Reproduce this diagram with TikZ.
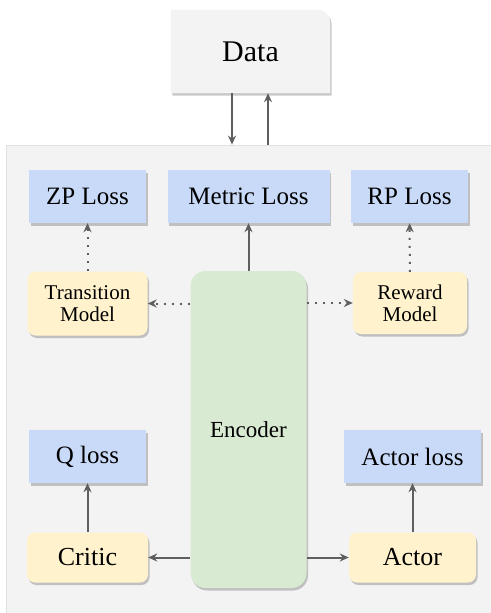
\documentclass[tikz,border=0pt]{standalone}
\usepackage{fontspec}
\setmainfont{Liberation Serif}
\usetikzlibrary{arrows.meta}
\usetikzlibrary{shadows}
\usetikzlibrary{backgrounds}
\definecolor{lossblue}{HTML}{C9DAF8}
\definecolor{modelyellow}{HTML}{FFF2CC}
\definecolor{encgreen}{HTML}{D9EAD3}
\definecolor{panelgray}{HTML}{F3F3F3}
\definecolor{linegray}{HTML}{5F5F5F}
\tikzstyle{graph}=[x=1pt, y=-1pt]
\tikzstyle{shade}=[drop shadow={shadow xshift=1.5pt, shadow yshift=-2.5pt, opacity=0.3, fill=black!70}]
\tikzstyle{box}=[inner sep=0pt, align=center, shade]
\tikzstyle{panel}=[draw=black!12, line width=0.8pt, fill=panelgray, minimum width=490pt, minimum height=480pt]
\tikzstyle{data}=[inner sep=0pt, minimum width=159pt, minimum height=83pt, font=\fontsize{30}{32}\selectfont]
\tikzstyle{loss}=[box, fill=lossblue, minimum height=53pt, font=\fontsize{25}{27}\selectfont]
\tikzstyle{model}=[box, fill=modelyellow, rounded corners=8pt, minimum width=120pt, minimum height=64pt, font=\fontsize{21}{22}\selectfont]
\tikzstyle{head}=[box, fill=modelyellow, rounded corners=8pt, minimum height=50pt, font=\fontsize{26}{28}\selectfont]
\tikzstyle{enc}=[box, fill=encgreen, rounded corners=15pt, minimum width=116pt, minimum height=317pt, font=\fontsize{23}{25}\selectfont]
\tikzstyle{edge}=[-{Stealth[length=9pt, width=8pt]}, color=linegray, line width=2pt]
\tikzstyle{aux}=[edge, dash pattern=on 2pt off 6pt]

\begin{document}
\begin{tikzpicture}[graph]
	\useasboundingbox (0,0) rectangle (490,613);
	\draw (251.5,385) node[panel] (panel) {};
	\draw (250.5,51.5) node[data] (data) {Data};
	\begin{scope}[on background layer]
		\fill[panelgray, shade] (data.south west) -- (data.north west) [rounded corners=12pt] -- (data.north east) [sharp corners] -- (data.south east) -- cycle;
	\end{scope}
	\draw[edge] ([xshift=-18.5pt]data.south) -- ([xshift=-18.5pt]data.south |- panel.north);
	\draw[edge] ([xshift=17.5pt]data.south |- panel.north) -- ([xshift=17.5pt]data.south);
	%
	\draw (87.5,196.5) node[loss, minimum width=117pt] (zp) {ZP Loss};
	\draw (248.5,196.5) node[loss, minimum width=162pt] (metric) {Metric Loss};
	\draw (409.5,196.5) node[loss, minimum width=117pt] (rp) {RP Loss};
	\draw (87.5,303.5) node[model] (trans) {Transition\\Model};
	\draw (410,303) node[model, minimum width=114pt, minimum height=62pt] (reward) {Reward\\Model};
	\draw (248.5,429.5) node[enc] (encoder) {Encoder};
	\draw (87.5,456.5) node[loss, minimum width=117pt] (qloss) {Q loss};
	\draw (412.5,456.5) node[loss, minimum width=137pt] (aloss) {Actor loss};
	\draw (87.5,557.5) node[head, minimum width=121pt] (critic) {Critic};
	\draw (412.5,557.5) node[head, minimum width=127pt] (actor) {Actor};
	%
	\draw[edge] (encoder) -- (metric);
	\draw[aux] (encoder.west |- trans) -- (trans.east);
	\draw[aux] (encoder.east |- reward) -- (reward.west);
	\draw[aux] (trans) -- (zp);
	\draw[aux] (reward) -- (rp);
	%
	\draw[edge] (encoder.west |- critic) -- (critic.east);
	\draw[edge] (encoder.east |- actor) -- (actor.west);
	\draw[edge] (critic) -- (qloss);
	\draw[edge] (actor) -- (aloss);
\end{tikzpicture}
\end{document}
